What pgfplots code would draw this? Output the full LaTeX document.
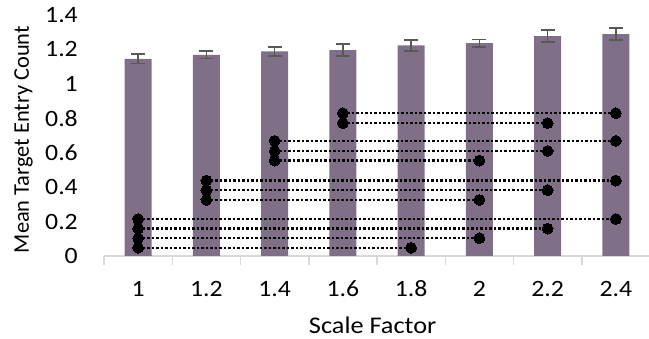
\documentclass[border=0pt]{standalone}
\usepackage{pgfplots}
\pgfplotsset{compat=1.18}
\usepackage{fontspec}
\setmainfont[FakeStretch=1.1]{Carlito}
\newfontfamily\ylabfont{Carlito}
\definecolor{barc}{RGB}{128,112,135}
\definecolor{axc}{RGB}{217,217,217}
\definecolor{errc}{RGB}{89,89,89}
\pgfplotsset{conn/.style={black, line width=2.4bp, dash pattern=on 2.4bp off 2.1bp,
  mark=*, mark size=5.4bp, mark options={solid, fill=black, draw=black, line width=0pt}}}
\begin{document}
\begin{tikzpicture}
\useasboundingbox (0,0) rectangle (649bp,339bp);
\begin{axis}[
  at={(104bp,83bp)}, anchor=south west,
  scale only axis, width=546bp, height=241bp,
  xmin=0.5, xmax=8.5, ymin=0, ymax=1.4,
  axis x line*=bottom, axis y line*=left,
  y axis line style={draw=none},
  x axis line style={draw=axc, line width=1.5bp, -},
  xtick={1,2,3,4,5,6,7,8},
  xticklabels={1,1.2,1.4,1.6,1.8,2,2.2,2.4},
  minor xtick={0.5,1.5,2.5,3.5,4.5,5.5,6.5,7.5,8.5},
  major tick length=0pt,
  minor tick length=9bp,
  tick align=outside,
  minor tick style={draw=axc, line width=1.5bp},
  ytick={0,0.2,0.4,0.6,0.8,1,1.2,1.4},
  yticklabels={0,0.2,0.4,0.6,0.8,1,1.2,1.4},
  xticklabel style={font=\fontsize{23.5}{28}\selectfont, anchor=base, yshift=-40.7bp, inner sep=0pt},
  yticklabel style={font=\fontsize{23.5}{28}\selectfont, anchor=east, inner sep=0pt, xshift=-26bp},
  xlabel={Scale Factor},
  ylabel={Mean Target Entry Count},
  xlabel style={font=\fontsize{24}{29}\selectfont, at={(axis description cs:0.492,0)}, anchor=base, yshift=-77.5bp, inner sep=0pt},
  ylabel style={font=\ylabfont\fontsize{22.5}{27}\selectfont, at={([xshift=-75bp]axis description cs:0,0.483)}, anchor=base, inner sep=0pt},
]
\addplot[ybar, bar width=27bp, fill=barc, draw=none,
  error bars/.cd, y dir=both, y explicit,
  error bar style={errc, line width=1.6bp},
  error mark options={rotate=90, errc, mark size=7bp, line width=1.6bp}]
  coordinates {
  (1,1.145) +- (0,0.027)
  (2,1.169) +- (0,0.021)
  (3,1.188) +- (0,0.025)
  (4,1.196) +- (0,0.035)
  (5,1.223) +- (0,0.031)
  (6,1.236) +- (0,0.022)
  (7,1.277) +- (0,0.035)
  (8,1.289) +- (0,0.034)
  };
\addplot[conn] coordinates {(1,0.048) (5,0.048)};
\addplot[conn] coordinates {(1,0.103) (6,0.103)};
\addplot[conn] coordinates {(1,0.159) (7,0.159)};
\addplot[conn] coordinates {(1,0.215) (8,0.215)};
\addplot[conn] coordinates {(2,0.326) (6,0.326)};
\addplot[conn] coordinates {(2,0.382) (7,0.382)};
\addplot[conn] coordinates {(2,0.438) (8,0.438)};
\addplot[conn] coordinates {(3,0.554) (6,0.554)};
\addplot[conn] coordinates {(3,0.610) (7,0.610)};
\addplot[conn] coordinates {(3,0.669) (8,0.669)};
\addplot[conn] coordinates {(4,0.772) (7,0.772)};
\addplot[conn] coordinates {(4,0.830) (8,0.830)};
\end{axis}
\end{tikzpicture}
\end{document}
